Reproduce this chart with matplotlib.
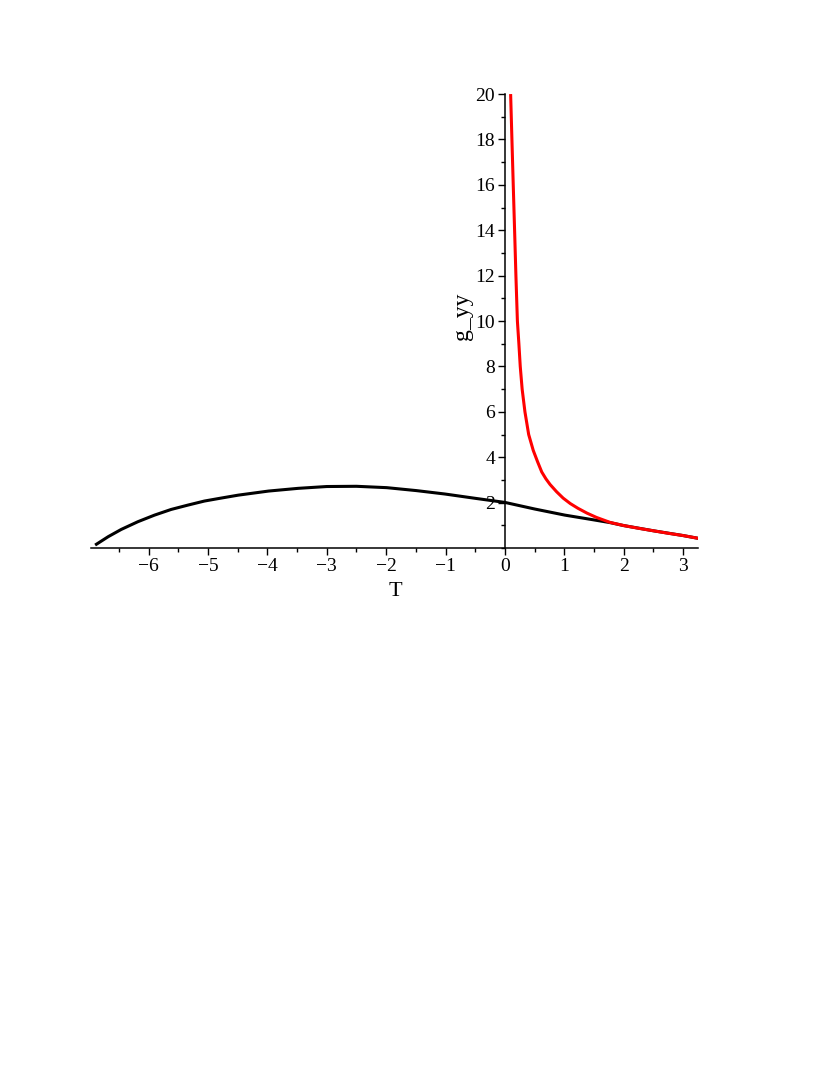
import matplotlib.pyplot as plt
from matplotlib.ticker import MultipleLocator

# black curve
t_black = [-6.90, -6.68, -6.46, -6.18, -5.90, -5.62, -5.34, -5.06, -4.78,
           -4.49, -3.98, -3.48, -3.0, -2.5, -1.99, -1.49, -1.01, -0.5, 0.0,
           0.5, 1.01, 1.52, 1.77, 2.0, 2.5, 3.0, 3.27]
g_black = [0.13, 0.50, 0.82, 1.16, 1.45, 1.70, 1.89, 2.07, 2.20,
           2.33, 2.51, 2.63, 2.71, 2.72, 2.66, 2.53, 2.38, 2.19, 2.01,
           1.72, 1.45, 1.23, 1.12, 0.99, 0.76, 0.55, 0.42]

# red curve
t_red = [0.096, 0.12, 0.14, 0.165, 0.185, 0.21, 0.235, 0.258, 0.29, 0.337,
         0.40, 0.477, 0.55, 0.62, 0.69, 0.76, 0.87, 0.98, 1.1, 1.23, 1.38,
         1.54, 1.77, 2.0, 2.25, 2.5, 2.75, 3.0, 3.27]
g_red = [20.0, 17.8, 16.0, 13.8, 12.0, 10.0, 9.0, 8.0, 7.0, 6.0,
         5.0, 4.3, 3.8, 3.35, 3.05, 2.8, 2.48, 2.2, 1.96, 1.75, 1.54,
         1.35, 1.13, 0.99, 0.87, 0.76, 0.65, 0.55, 0.42]

x_ticks = [-6, -5, -4, -3, -2, -1, 0, 1, 2, 3]
y_ticks = [2, 4, 6, 8, 10, 12, 14, 16, 18, 20]

plt.rcParams['font.family'] = ['Liberation Serif', 'DejaVu Serif']

fig = plt.figure(figsize=(8.3, 10.75), dpi=100)
ax = fig.add_axes([0.1096, 0.4902, 0.7313, 0.4223])

ax.plot(t_black, g_black, color='black', lw=2.2, solid_capstyle='butt',
        solid_joinstyle='round')
ax.plot(t_red, g_red, color='#ff0000', lw=2.2, solid_capstyle='butt',
        solid_joinstyle='round')

ax.set_xlim(-6.97, 3.25)
ax.set_ylim(0, 20)

ax.spines['left'].set_position(('data', 0))
ax.spines['bottom'].set_position(('data', 0))
ax.spines['top'].set_visible(False)
ax.spines['right'].set_visible(False)
ax.spines['left'].set_linewidth(1.1)
ax.spines['bottom'].set_linewidth(1.1)

ax.set_xticks(x_ticks)
ax.set_xticklabels(['\u2212' + str(-v) if v < 0 else str(v) for v in x_ticks])
ax.set_yticks(y_ticks)
ax.set_yticklabels([str(v) for v in y_ticks])
ax.xaxis.set_minor_locator(MultipleLocator(0.5))
ax.yaxis.set_minor_locator(MultipleLocator(1))
ax.tick_params(which='major', length=5, width=1.0, labelsize=14, pad=2)
ax.tick_params(which='minor', length=3, width=1.0)

ax.text(-1.85, -1.9, 'T', fontsize=16, ha='center', va='center', clip_on=False)
ax.text(-0.72, 10.2, 'g_yy', fontsize=17, ha='center', va='center',
        rotation=90, clip_on=False)

fig.savefig('out.png', dpi=100)
